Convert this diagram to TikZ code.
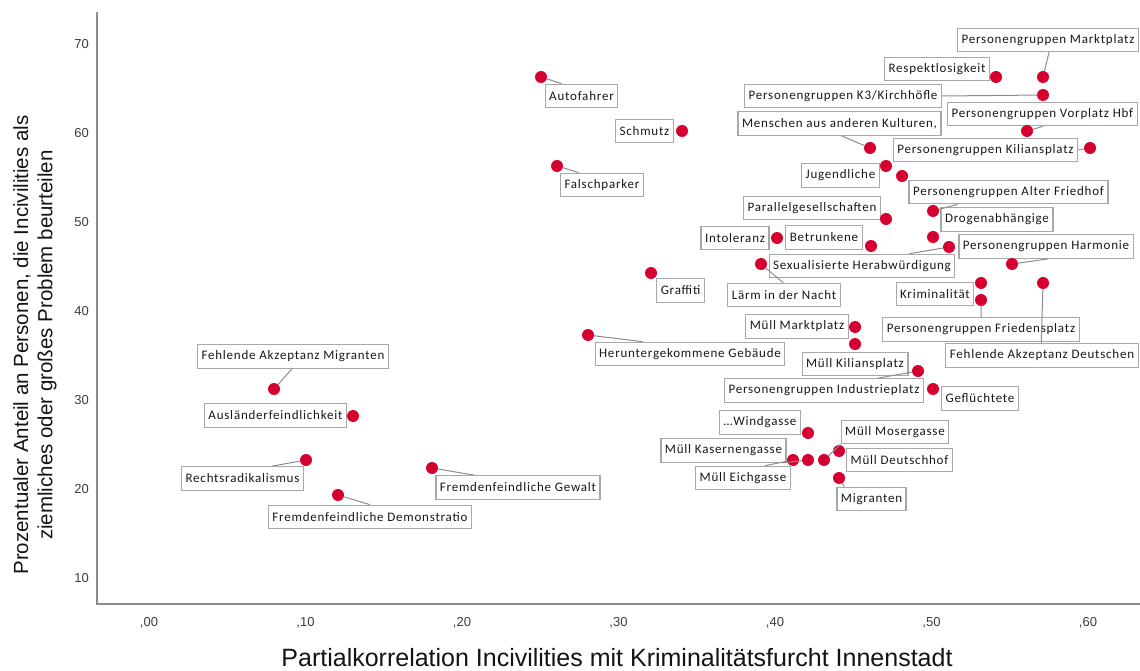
\documentclass[tikz,border=0pt]{standalone}
\usepackage{fontspec}
\newfontfamily\labfont[LetterSpace=6]{Carlito}
\newfontfamily\arialfont{Liberation Sans}
\definecolor{dotred}{RGB}{213,0,48}
\definecolor{boxgray}{RGB}{168,168,168}
\definecolor{leadgray}{RGB}{140,140,140}
\definecolor{axisgray}{RGB}{140,140,140}
\definecolor{tickgray}{RGB}{60,60,60}
\tikzset{
  pt/.style={circle,fill=dotred,inner sep=0pt,minimum size=12pt},
  lab/.style={draw=boxgray,line width=1.2pt,fill=white,inner xsep=4pt,inner ysep=0pt,
    minimum height=23.5pt,text=black!90,font=\labfont\fontsize{13}{15}\selectfont},
  leader/.style={draw=leadgray,line width=1pt},
  axisline/.style={draw=axisgray,line width=1.6pt},
  ticklab/.style={text=tickgray,font=\arialfont\fontsize{13}{15}\selectfont,inner sep=0pt},
  axtitle/.style={inner sep=0pt,text=black!92},
}
\begin{document}
\begin{tikzpicture}[x=1pt,y=-1pt]
\useasboundingbox (0,0) rectangle (1140,671);
\clip (0,0) rectangle (1140,671);
% axes
\coordinate (ytop) at (97,12);
\coordinate (orig) at (97,604);
\coordinate (xend) at (1141,604);
\draw[axisline] (ytop) -- (orig) -- (xend);
% y tick labels
\foreach \v/\yy in {70/44,60/133,50/222,40/311,30/400,20/489,10/578}
  \node[ticklab,anchor=east] (yt\v) at (89,\yy) {\v};
% x tick labels
\foreach \v/\xx in {00/149,10/305.5,20/462,30/618.5,40/775,50/931.5,60/1088}
  \node[ticklab] (xt\v) at (\xx,623) {,\v};
% axis titles
\node[axtitle,font=\arialfont\fontsize{25}{28}\selectfont] (xtitle) at (617,658)
  {Partialkorrelation Incivilities mit Kriminalitätsfurcht Innenstadt};
\node[axtitle,font=\arialfont\fontsize{20.5}{24}\selectfont,rotate=90] (ytitle1) at (22,345)
  {Prozentualer Anteil an Personen, die Incivilities als};
\node[axtitle,font=\arialfont\fontsize{20.5}{24}\selectfont,rotate=90] (ytitle2) at (47,345)
  {ziemliches oder großes Problem beurteilen};

% data point positions
\coordinate (pA) at (541,77);
\coordinate (pB) at (682,131);
\coordinate (pC) at (557,166);
\coordinate (pD) at (996,77);
\coordinate (pE) at (1043,77);
\coordinate (pF) at (1043,95);
\coordinate (pG) at (1027,131);
\coordinate (pH) at (870,148);
\coordinate (pI) at (1090,148);
\coordinate (pJ) at (886,166);
\coordinate (pK) at (902,176);
\coordinate (pL) at (933,211);
\coordinate (pM) at (886,219);
\coordinate (pN) at (777,238);
\coordinate (pO) at (871,246);
\coordinate (pP) at (933,237);
\coordinate (pQ) at (949,247);
\coordinate (pR) at (1012,264);
\coordinate (pS) at (761,264);
\coordinate (pT) at (651,273);
\coordinate (pU) at (981,283);
\coordinate (pV) at (981,300);
\coordinate (pW) at (1043,283);
\coordinate (pX) at (855,327);
\coordinate (pY) at (855,344);
\coordinate (pZ) at (918,371);
\coordinate (pAA) at (933,389);
\coordinate (pAB) at (588,335);
\coordinate (pAC) at (808,433);
\coordinate (pAD) at (839,451);
\coordinate (pAE) at (824,460);
\coordinate (pAF) at (808,460);
\coordinate (pAG) at (793,460);
\coordinate (pAH) at (839,478);
\coordinate (pAI) at (274,389);
\coordinate (pAJ) at (353,416);
\coordinate (pAK) at (306,460);
\coordinate (pAL) at (432,468);
\coordinate (pAM) at (338,495);

% labels
\node[lab] (lA) at (581.5,96) {Autofahrer};
\node[lab] (lB) at (644.5,131) {Schmutz};
\node[lab] (lC) at (602,185) {Falschparker};
\node[lab] (lD) at (937,69) {Respektlosigkeit};
\node[lab,anchor=west] (lE) at (957,40) {Personengruppen Marktplatz};
\node[lab] (lF) at (843,96) {Personengruppen K3/Kirchhöfle};
\node[lab,anchor=west] (lG) at (947,114) {Personengruppen Vorplatz Hbf};
\node[lab] (lH) at (839.5,123.5) {Menschen aus anderen Kulturen,};
\node[lab] (lI) at (985.5,150) {Personengruppen Kiliansplatz};
\node[lab] (lJ) at (840.5,175.5) {Jugendliche};
\node[lab] (lK) at (1008.5,192) {Personengruppen Alter Friedhof};
\node[lab] (lL) at (997,219.5) {Drogenabhängige};
\node[lab] (lM) at (812,208) {Parallelgesellschaften};
\node[lab] (lN) at (735,238) {Intoleranz};
\node[lab] (lO) at (824,237.5) {Betrunkene};
\node[lab] (lQ) at (862,266) {Sexualisierte Herabwürdigung};
\node[lab] (lR) at (1046,246.5) {Personengruppen Harmonie};
\node[lab] (lS) at (784,295) {Lärm in der Nacht};
\node[lab] (lT) at (680.5,290.5) {Graffiti};
\node[lab] (lU) at (935,294) {Kriminalität};
\node[lab] (lV) at (981,329.5) {Personengruppen Friedensplatz};
\node[lab] (lW) at (1042,355.5) {Fehlende Akzeptanz Deutschen};
\node[lab] (lX) at (797,326.5) {Müll Marktplatz};
\node[lab] (lY) at (855,364) {Müll Kiliansplatz};
\node[lab] (lZ) at (824,390.5) {Personengruppen Industrieplatz};
\node[lab] (lAA) at (980,398.5) {Geflüchtete};
\node[lab] (lAB) at (690,354) {Heruntergekommene Gebäude};
\node[lab] (lAC) at (760,422.5) {…Windgasse};
\node[lab] (lAD) at (895,432) {Müll Mosergasse};
\node[lab] (lAE) at (899.5,460) {Müll Deutschhof};
\node[lab] (lAF) at (723.5,450.5) {Müll Kasernengasse};
\node[lab] (lAG) at (743,478) {Müll Eichgasse};
\node[lab] (lAH) at (871.5,499) {Migranten};
\node[lab] (lAI) at (293,356.5) {Fehlende Akzeptanz Migranten};
\node[lab] (lAJ) at (275.5,415.5) {Ausländerfeindlichkeit};
\node[lab] (lAK) at (242.5,478.5) {Rechtsradikalismus};
\node[lab] (lAL) at (518,487.5) {Fremdenfeindliche Gewalt};
\node[lab] (lAM) at (370,517) {Fremdenfeindliche Demonstratio};

% dots
\foreach \n in {A,B,C,D,E,F,G,H,I,J,K,L,M,N,O,P,Q,R,S,T,U,V,W,X,Y,Z,AA,AB,AC,AD,AE,AF,AG,AH,AI,AJ,AK,AL,AM}
  \node[pt] (d\n) at (p\n) {};

% leaders
\draw[leader] (dA) -- ([xshift=17pt]lA.north west);
\draw[leader] (dC) -- ([xshift=19pt]lC.north west);
\draw[leader] (dE) -- ([xshift=92pt]lE.south west);
\draw[leader] (dF) -- (lF.east);
\draw[leader] (dG) -- ([xshift=96pt]lG.south west);
\draw[leader] (dH) -- ([xshift=104pt]lH.south west);
\draw[leader] (dI) -- (lI.east);
\draw[leader] (dL) -- ([xshift=49pt]lK.south west);
\draw[leader] (dQ) -- ([xshift=141pt]lQ.north west);
\draw[leader] (dR) -- ([xshift=90pt]lR.south west);
\draw[leader] (dS) -- ([xshift=56pt]lS.north west);
\draw[leader] (dV) -- ([xshift=99pt]lV.north west);
\draw[leader] (dW) -- ([xshift=96pt]lW.north west);
\draw[leader] (dZ) -- ([xshift=154pt]lZ.north west);
\draw[leader] (dAB) -- ([xshift=48pt]lAB.north west);
\draw[leader] (dAE) -- (lAD.south west);
\draw[leader] (dAG) -- ([xshift=70pt]lAG.north west);
\draw[leader] (dAF) -- ([xshift=-4pt]lAF.south east);
\draw[leader] (dAH) -- ([xshift=8pt]lAH.north west);
\draw[leader] (dAI) -- ([xshift=95pt]lAI.south west);
\draw[leader] (dAK) -- ([xshift=91pt]lAK.north west);
\draw[leader] (dAL) -- ([xshift=39pt]lAL.north west);
\draw[leader] (dAM) -- ([xshift=102pt]lAM.north west);
\end{tikzpicture}
\end{document}
